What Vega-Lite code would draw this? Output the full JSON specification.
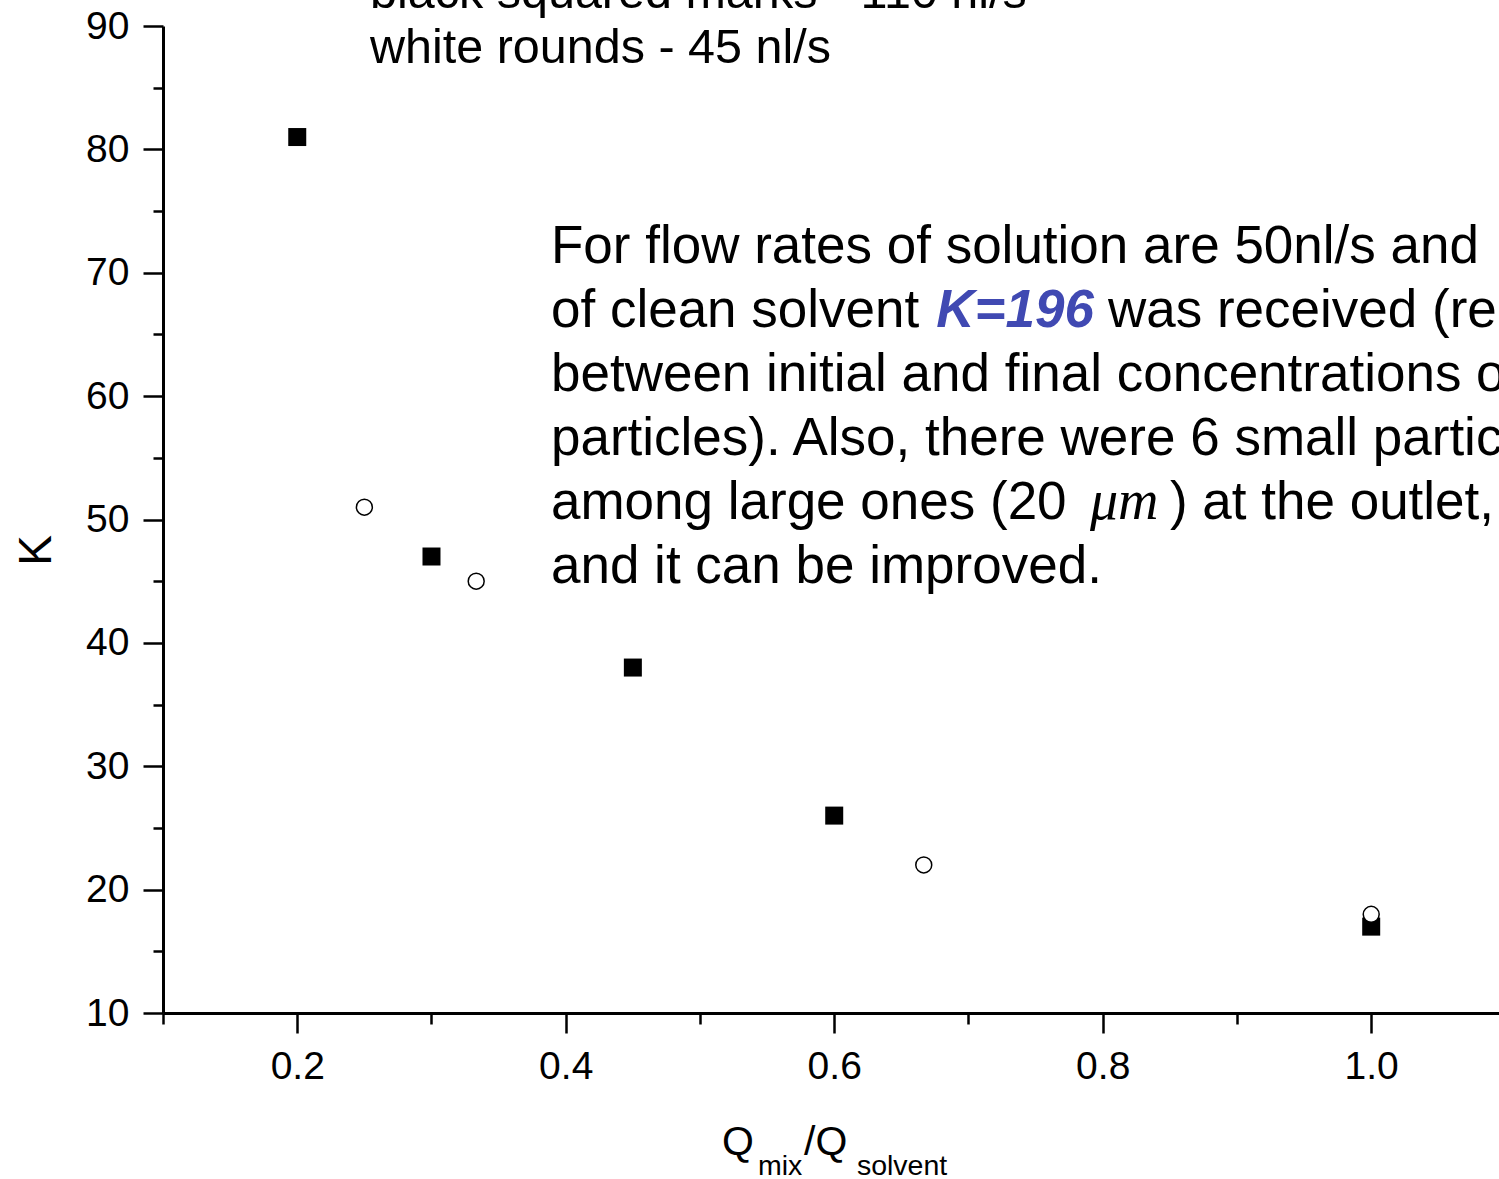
{
  "$schema": "https://vega.github.io/schema/vega-lite/v6.json",
  "width": 1336,
  "height": 987,
  "autosize": {"type": "none"},
  "padding": {"left": 163, "top": 26, "right": 0, "bottom": 166},
  "background": "white",
  "config": {"view": {"stroke": null}},
  "datasets": {
    "points": [
      {"x": 0.2, "y": 81, "s": "sq"},
      {"x": 0.3, "y": 47, "s": "sq"},
      {"x": 0.45, "y": 38, "s": "sq"},
      {"x": 0.6, "y": 26, "s": "sq"},
      {"x": 1.0, "y": 17, "s": "sq"},
      {"x": 0.25, "y": 51, "s": "ci"},
      {"x": 0.3333, "y": 45, "s": "ci"},
      {"x": 0.6667, "y": 22, "s": "ci"},
      {"x": 1.0, "y": 18, "s": "ci"}
    ],
    "notes": [
      {"x": 0.2542, "y": 91.46, "text": "black squared marks - 110 nl/s"},
      {"x": 0.2542, "y": 87.0, "text": "white rounds - 45 nl/s"}
    ],
    "body": [
      {"x": 0.389, "y": 70.79, "text": "For flow rates of solution are 50nl/s and"},
      {"x": 0.389, "y": 65.6, "text": "of clean solvent"},
      {"x": 0.8039, "y": 65.6, "text": "was received (relation"},
      {"x": 0.389, "y": 60.42, "text": "between initial and final concentrations of"},
      {"x": 0.389, "y": 55.23, "text": "particles). Also, there were 6 small particles"},
      {"x": 0.389, "y": 50.04, "text": "among large ones (20"},
      {"x": 0.8501, "y": 50.04, "text": ") at the outlet,"},
      {"x": 0.389, "y": 44.85, "text": "and it can be improved."}
    ],
    "blue": [
      {"x": 0.676, "y": 65.6, "text": "K=196"}
    ],
    "mu": [
      {"x": 0.7905, "y": 50.04, "text": "μm"}
    ],
    "xtitleBig": [
      {"x": 0.5164, "y": -1.51, "text": "Q"},
      {"x": 0.5775, "y": -1.51, "text": "/Q"}
    ],
    "xtitleSmall": [
      {"x": 0.5432, "y": -3.13, "text": "mix"},
      {"x": 0.6169, "y": -3.13, "text": "solvent"}
    ]
  },
  "encoding": {
    "x": {
      "field": "x",
      "type": "quantitative",
      "scale": {"domain": [0.1, 1.0952], "nice": false, "zero": false},
      "axis": {
        "title": null,
        "grid": false,
        "values": [0.1, 0.2, 0.3, 0.4, 0.5, 0.6, 0.7, 0.8, 0.9, 1.0],
        "format": ".1f",
        "labelExpr": "round(datum.value*10) % 2 === 0 ? datum.label : ''",
        "tickSize": {"condition": {"test": "round(datum.value*10) % 2 === 0", "value": 20}, "value": 11},
        "tickWidth": 2.5,
        "tickColor": "black",
        "domainColor": "black",
        "domainWidth": 3,
        "labelFont": "Liberation Sans",
        "labelFontSize": 39,
        "labelColor": "black",
        "labelPadding": 14,
        "labelOverlap": false,
        "labelFlush": false
      }
    },
    "y": {
      "field": "y",
      "type": "quantitative",
      "scale": {"domain": [10, 90], "nice": false, "zero": false},
      "axis": {
        "title": "K",
        "grid": false,
        "values": [10, 15, 20, 25, 30, 35, 40, 45, 50, 55, 60, 65, 70, 75, 80, 85, 90],
        "labelExpr": "datum.value % 10 === 0 ? datum.label : ''",
        "tickSize": {"condition": {"test": "datum.value % 10 === 0", "value": 20}, "value": 10},
        "tickWidth": 2.5,
        "tickColor": "black",
        "domainColor": "black",
        "domainWidth": 3,
        "labelFont": "Liberation Sans",
        "labelFontSize": 39,
        "labelColor": "black",
        "labelPadding": 14,
        "labelOverlap": false,
        "labelFlush": false,
        "titleFont": "Liberation Sans",
        "titleFontSize": 46,
        "titleFontWeight": "normal",
        "titleColor": "black",
        "titleAngle": 270,
        "titleAlign": "center",
        "titleBaseline": "alphabetic",
        "titleX": -113,
        "titleY": 524
      }
    }
  },
  "layer": [
    {
      "data": {"name": "points"},
      "transform": [{"filter": "datum.s === 'sq'"}],
      "mark": {"type": "point", "shape": "square", "filled": true, "color": "black", "size": 324, "opacity": 1}
    },
    {
      "data": {"name": "points"},
      "transform": [{"filter": "datum.s === 'ci'"}],
      "mark": {"type": "point", "shape": "circle", "filled": true, "fill": "white", "stroke": "black", "strokeWidth": 1.5, "size": 254, "opacity": 1}
    },
    {
      "data": {"name": "notes"},
      "mark": {"type": "text", "align": "left", "baseline": "alphabetic", "font": "Liberation Sans", "fontSize": 48.5, "color": "black"},
      "encoding": {"text": {"field": "text"}}
    },
    {
      "data": {"name": "body"},
      "mark": {"type": "text", "align": "left", "baseline": "alphabetic", "font": "Liberation Sans", "fontSize": 53, "color": "black"},
      "encoding": {"text": {"field": "text"}}
    },
    {
      "data": {"name": "blue"},
      "mark": {"type": "text", "align": "left", "baseline": "alphabetic", "font": "Liberation Sans", "fontSize": 53, "fontWeight": "bold", "fontStyle": "italic", "color": "#4049B2"},
      "encoding": {"text": {"field": "text"}}
    },
    {
      "data": {"name": "mu"},
      "mark": {"type": "text", "align": "left", "baseline": "alphabetic", "font": "Liberation Serif", "fontSize": 56, "fontStyle": "italic", "color": "black"},
      "encoding": {"text": {"field": "text"}}
    },
    {
      "data": {"name": "xtitleBig"},
      "mark": {"type": "text", "align": "left", "baseline": "alphabetic", "font": "Liberation Sans", "fontSize": 41, "color": "black"},
      "encoding": {"text": {"field": "text"}}
    },
    {
      "data": {"name": "xtitleSmall"},
      "mark": {"type": "text", "align": "left", "baseline": "alphabetic", "font": "Liberation Sans", "fontSize": 28.5, "color": "black"},
      "encoding": {"text": {"field": "text"}}
    }
  ]
}
